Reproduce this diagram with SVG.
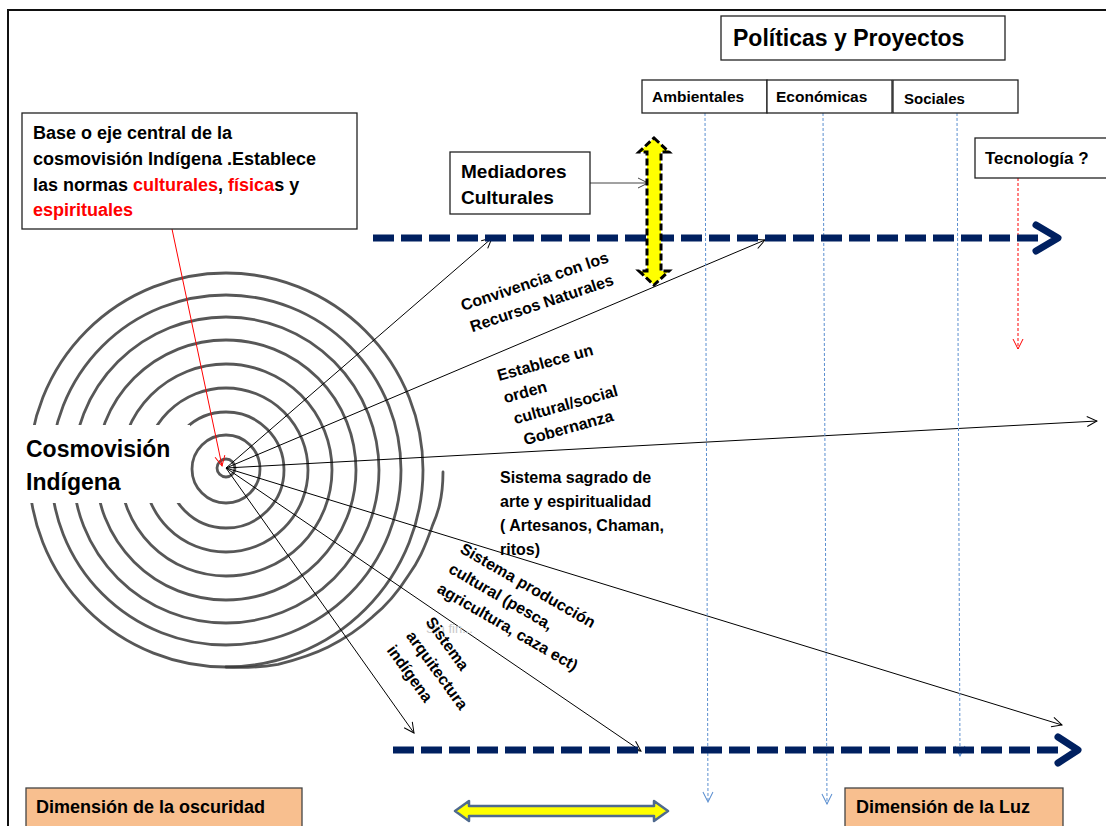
<svg xmlns="http://www.w3.org/2000/svg" width="1106" height="826" viewBox="0 0 1106 826">
<style>
.t{font-family:"Liberation Sans",Arial,sans-serif;font-weight:bold;fill:#000}
.box{fill:#fff;stroke:#222;stroke-width:1.3}
.ring{fill:none;stroke:#3a3a3a;stroke-width:2.8;opacity:.85;stroke-linecap:round}
.ray{stroke:#000;stroke-width:1;fill:none;marker-end:url(#ah)}
.nav{stroke:#002060;stroke-width:7;stroke-dasharray:21 7;fill:none}
.chev{stroke:#002060;stroke-width:7;stroke-linecap:round;stroke-linejoin:round;fill:none}
.bl{stroke:#5B8FD0;stroke-width:1;stroke-dasharray:3 2;fill:none;marker-end:url(#bh)}
.red{fill:#ff0000}
.peach{fill:#F8BF8F;stroke:#444;stroke-width:1.3}
</style>
<defs>
<marker id="ah" viewBox="0 0 12 12" refX="11" refY="6" markerWidth="12" markerHeight="12" markerUnits="userSpaceOnUse" orient="auto">
<path d="M1,1 L11,6 L1,11" fill="none" stroke="#000" stroke-width="1"/>
</marker>
<marker id="gh" viewBox="0 0 12 12" refX="11" refY="6" markerWidth="12" markerHeight="12" markerUnits="userSpaceOnUse" orient="auto">
<path d="M1,1 L11,6 L1,11" fill="none" stroke="#444" stroke-width="1"/>
</marker>
<marker id="bh" viewBox="0 0 12 12" refX="11" refY="6" markerWidth="12" markerHeight="12" markerUnits="userSpaceOnUse" orient="auto">
<path d="M1,1 L11,6 L1,11" fill="none" stroke="#5B8FD0" stroke-width="1"/>
</marker>
<marker id="rh" viewBox="0 0 12 12" refX="11" refY="6" markerWidth="12" markerHeight="12" markerUnits="userSpaceOnUse" orient="auto">
<path d="M1,1 L11,6 L1,11" fill="none" stroke="#ff0000" stroke-width="1"/>
</marker>
</defs>
<rect x="0" y="0" width="1106" height="826" fill="#fff"/>
<!-- frame -->
<path d="M8,830 L8,10 L1110,10" fill="none" stroke="#111" stroke-width="2"/>

<!-- spiral -->
<g id="spiral">
<circle class="ring" cx="226" cy="468" r="9"/>
<circle class="ring" cx="226" cy="469" r="34"/>
<circle class="ring" cx="226" cy="470" r="58"/>
<circle class="ring" cx="226" cy="470" r="82"/>
<circle class="ring" cx="226" cy="470" r="106"/>
<circle class="ring" cx="226" cy="470" r="130"/>
<circle class="ring" cx="226" cy="470" r="153"/>
<circle class="ring" cx="226" cy="470" r="175"/>
<circle class="ring" cx="226" cy="470" r="197"/>
<path class="ring" d="M443,472 C443,500 437,515 432.5,525.4 C424,550 418,562 408.5,575.3 C396,595 386,606 372.7,616.7 C358,630 344,639 328.2,646.9 C312,655 295,660 278.1,664.3 C262,667 245,668 226,667"/>
<rect x="24" y="425" width="166" height="78" fill="#fff"/>
<text class="t" x="26" y="457" font-size="23">Cosmovisión</text>
<text class="t" x="26" y="490" font-size="23">Indígena</text>
</g>

<!-- connectors -->
<g id="connectors">
<line x1="172" y1="229" x2="222" y2="466" stroke="#ff0000" stroke-width="1" marker-end="url(#rh)"/>
<line class="ray" x1="226" y1="468" x2="492" y2="238"/>
<line class="ray" x1="226" y1="468" x2="765" y2="240"/>
<line class="ray" x1="226" y1="468" x2="1097" y2="421"/>
<line class="ray" x1="226" y1="468" x2="1062" y2="725"/>
<line class="ray" x1="226" y1="468" x2="641" y2="751"/>
<line class="ray" x1="226" y1="468" x2="414" y2="733"/>
<line x1="590" y1="183" x2="648" y2="183" stroke="#444" stroke-width="1" marker-end="url(#gh)"/>
<line class="bl" x1="705" y1="113" x2="708" y2="802"/>
<line class="bl" x1="823" y1="113" x2="827" y2="804"/>
<line class="bl" x1="957" y1="113" x2="960" y2="756"/>
<line x1="1018" y1="178" x2="1018" y2="349" stroke="#ff0000" stroke-width="1" stroke-dasharray="3 2" marker-end="url(#rh)"/>
</g>

<!-- timelines -->
<g id="timeline-top">
<line class="nav" x1="373" y1="238" x2="1040" y2="238"/>
<path class="chev" d="M1036,225 L1058,238 L1036,251"/>
</g>
<g id="timeline-bottom">
<line class="nav" x1="393" y1="750" x2="1062" y2="750"/>
<path class="chev" d="M1058,737 L1078,750 L1058,763"/>
</g>

<!-- yellow vertical double arrow -->
<g id="mediator-arrow">
<path d="M654,138 L669,152 L661,152 L661,271 L669,271 L654,285 L639,271 L647,271 L647,152 L639,152 Z" fill="#ffff00" stroke="#000" stroke-width="3" stroke-dasharray="7 3"/>
</g>

<!-- boxes -->
<g id="politicas">
<rect class="box" x="721" y="16" width="284" height="44"/>
<text class="t" x="733" y="46" font-size="23">Políticas y Proyectos</text>
</g>
<g id="ambientales">
<rect class="box" x="642" y="80" width="125" height="33"/>
<text class="t" x="652" y="102" font-size="15.5">Ambientales</text>
</g>
<g id="economicas">
<rect class="box" x="767" y="80" width="125" height="33"/>
<text class="t" x="776" y="102" font-size="15.5">Económicas</text>
</g>
<g id="sociales">
<rect class="box" x="893" y="80" width="125" height="33"/>
<text class="t" x="904" y="104" font-size="15">Sociales</text>
</g>
<g id="tecnologia">
<rect class="box" x="975" y="138" width="140" height="40"/>
<text class="t" x="985" y="164" font-size="17">Tecnología ?</text>
</g>
<g id="mediadores">
<rect class="box" x="450" y="152" width="140" height="62"/>
<text class="t" x="461" y="178" font-size="19">Mediadores</text>
<text class="t" x="461" y="204" font-size="19">Culturales</text>
</g>
<g id="base">
<rect class="box" x="22" y="113" width="335" height="116"/>
<text class="t" x="33" y="139" font-size="18">Base o eje central de la</text>
<text class="t" x="33" y="165" font-size="18">cosmovisión Indígena .Establece</text>
<text class="t" x="33" y="191" font-size="18">las normas <tspan class="red">culturales</tspan>, <tspan class="red">física</tspan>s y</text>
<text class="t" x="33" y="216" font-size="18"><tspan class="red">espirituales</tspan></text>
</g>

<!-- ray labels -->
<g id="label-convivencia">
<text class="t" font-size="16" transform="translate(463,311) rotate(-18.5)">
<tspan x="0" y="0">Convivencia con los</tspan><tspan x="2" y="23">Recursos Naturales</tspan></text>
</g>
<g id="label-orden">
<text class="t" font-size="16" transform="translate(499,381) rotate(-15.5)">
<tspan x="0" y="0">Establece un</tspan><tspan x="0" y="23">orden</tspan><tspan x="4" y="46">cultural/social</tspan><tspan x="8" y="69">Gobernanza</tspan></text>
</g>
<g id="label-sagrado">
<text class="t" font-size="16" x="500" y="483">Sistema sagrado de</text>
<text class="t" font-size="16" x="500" y="507">arte y espiritualidad</text>
<text class="t" font-size="16" x="500" y="531">( Artesanos, Chaman,</text>
<text class="t" font-size="16" x="500" y="555">ritos)</text>
</g>
<text x="426" y="633" font-family="'Liberation Sans',sans-serif" font-size="13" fill="#c8c8c8">Sin fin...</text>
<g id="label-produccion">
<text class="t" font-size="16" transform="translate(459,552) rotate(30)">
<tspan x="0" y="0">Sistema producción</tspan><tspan x="0" y="23">cultural (pesca,</tspan><tspan x="0" y="46">agricultura, caza ect)</tspan></text>
</g>
<g id="label-arquitectura">
<text class="t" font-size="16" transform="translate(425,622) rotate(54)">
<tspan x="0" y="0">Sistema</tspan><tspan x="0" y="24">arquitectura</tspan><tspan x="0" y="48">indígena</tspan></text>
</g>

<!-- bottom -->
<g id="oscuridad">
<rect class="peach" x="26" y="788" width="276" height="44"/>
<text class="t" x="36" y="813" font-size="18">Dimensión de la oscuridad</text>
</g>
<g id="luz">
<rect class="peach" x="845" y="788" width="218" height="44"/>
<text class="t" x="856" y="813" font-size="18">Dimensión de la Luz</text>
</g>
<g id="horizontal-arrow">
<path d="M455,811 L469,801 L469,806 L654,806 L654,801 L668,811 L654,821 L654,816 L469,816 L469,821 Z" fill="#ffff00" stroke="#4F6A8F" stroke-width="2.5" stroke-linejoin="round"/>
</g>
</svg>
